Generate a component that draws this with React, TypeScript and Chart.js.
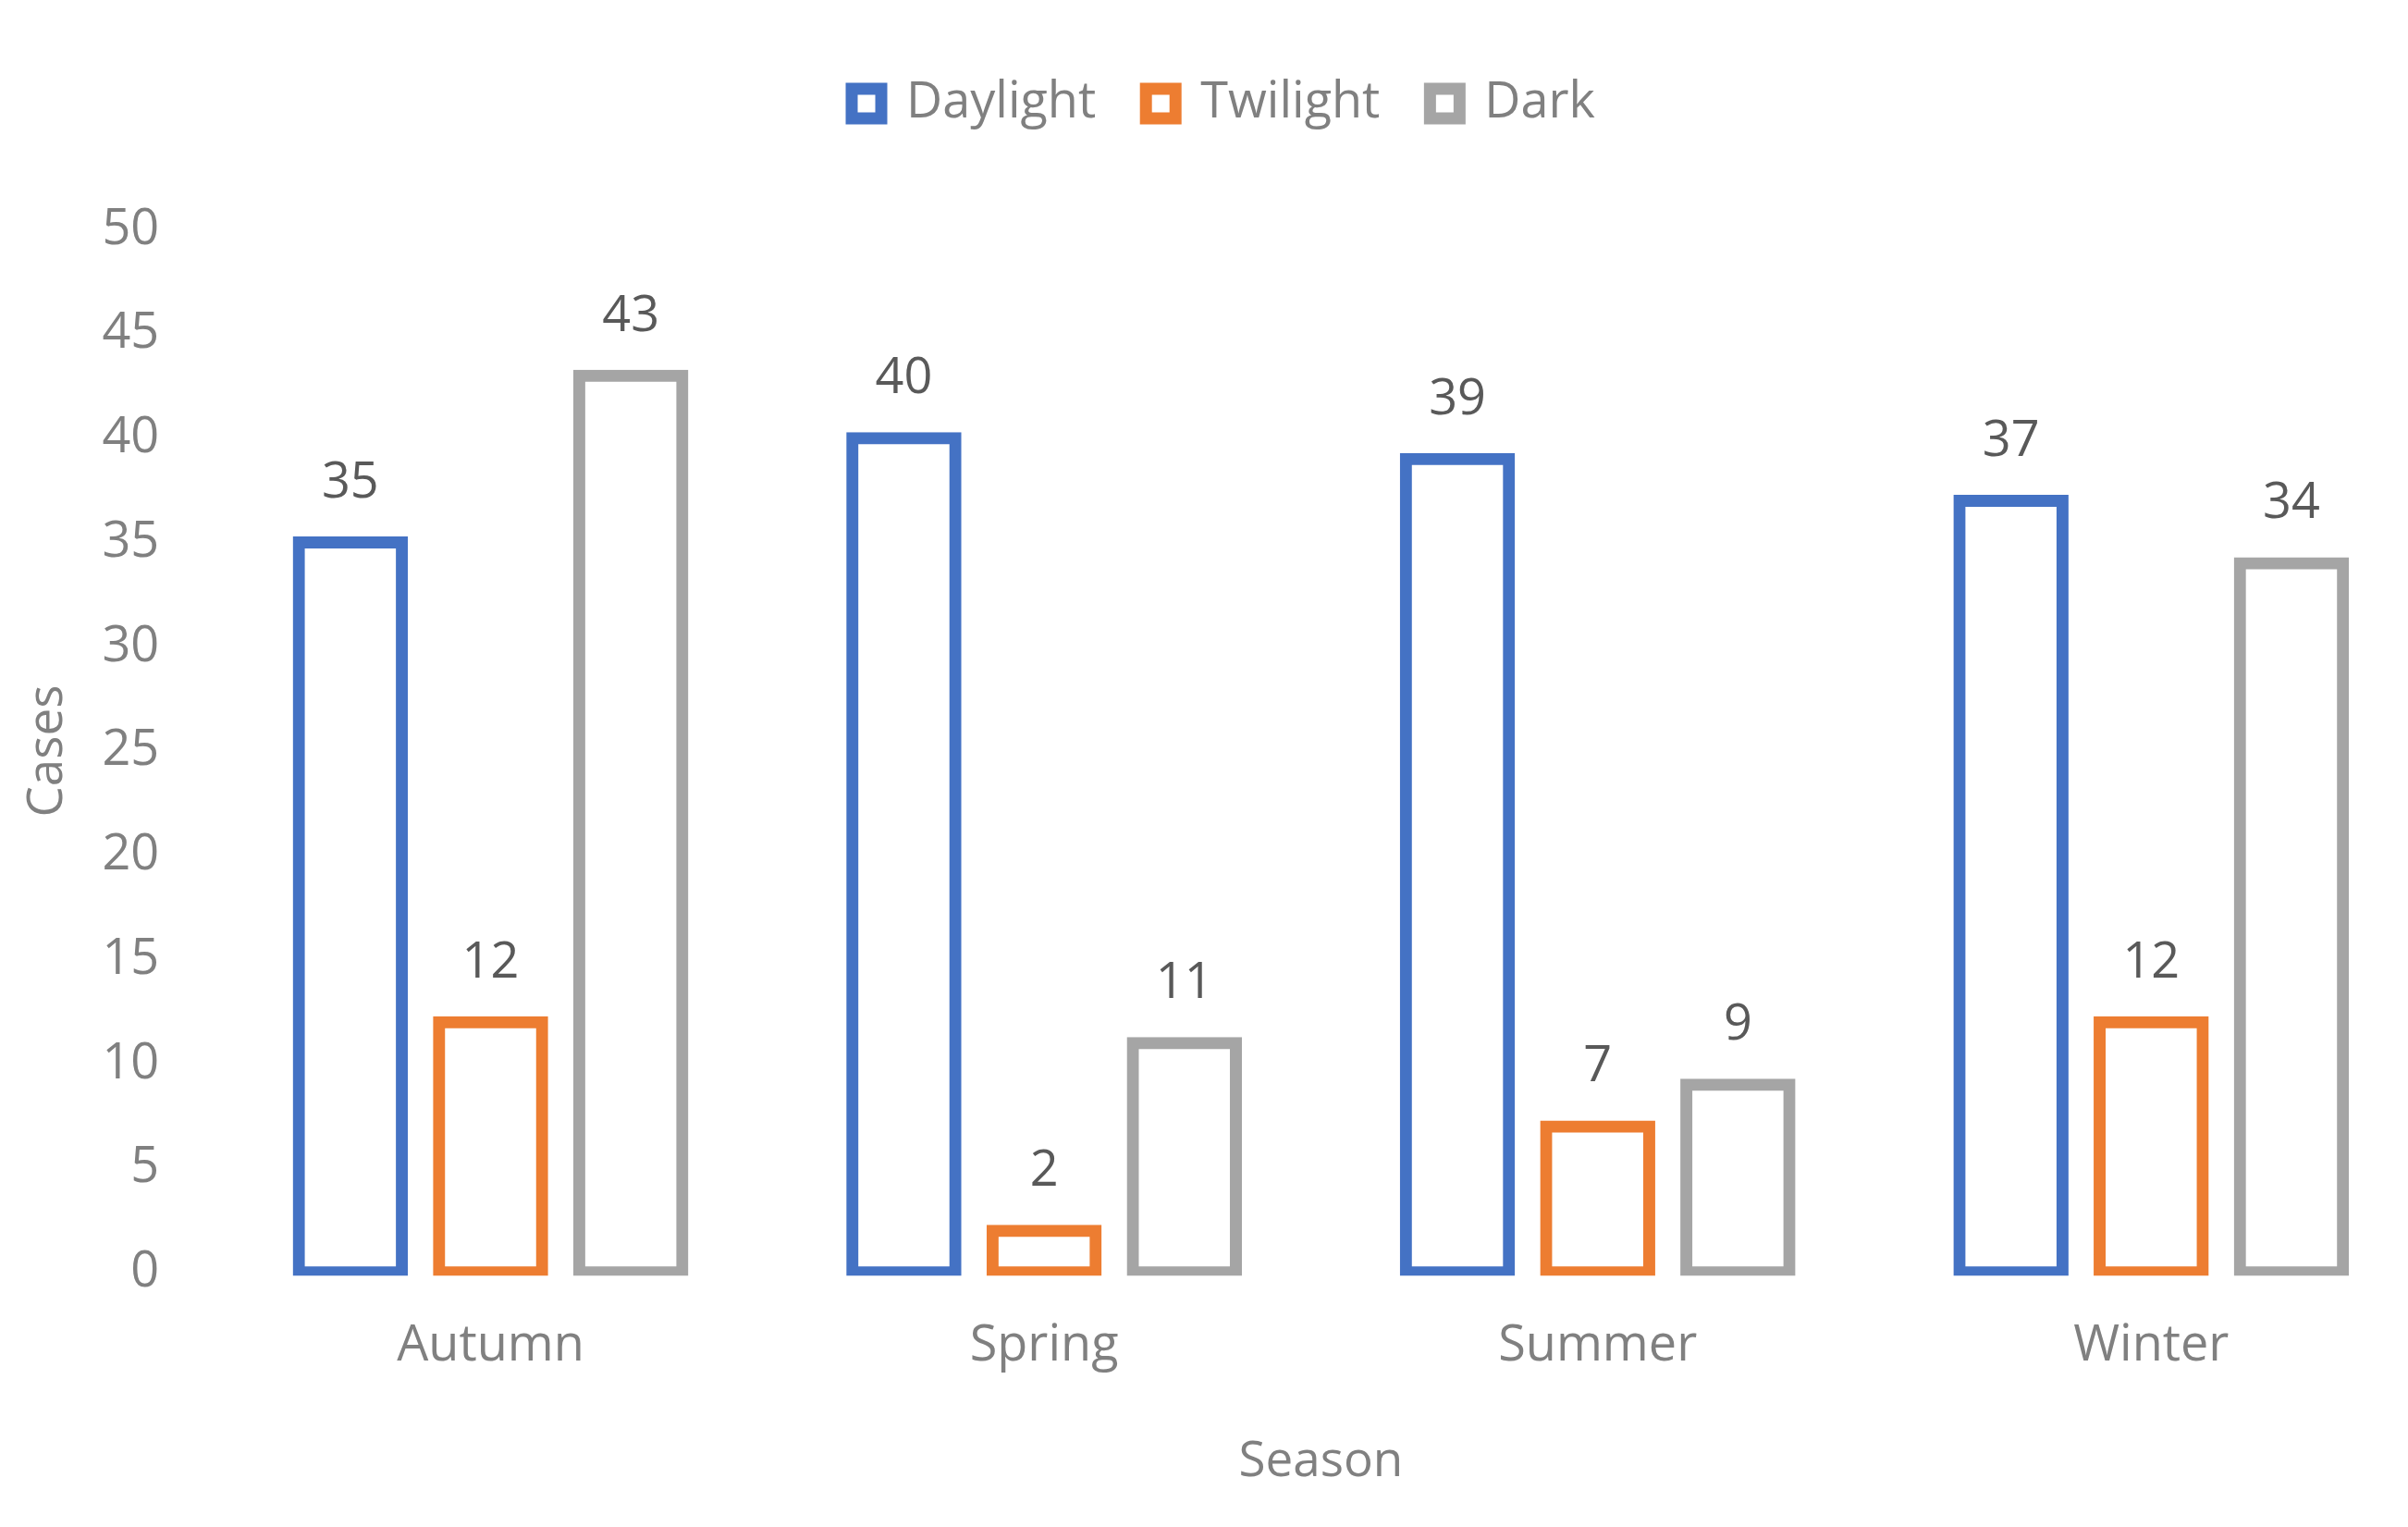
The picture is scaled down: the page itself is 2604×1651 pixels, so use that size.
import React, { useEffect, useRef } from "react";
import Chart from "chart.js/auto";

// values
const seasons = ["Autumn", "Spring", "Summer", "Winter"];
const daylight = [35, 40, 39, 37];
const twilight = [12, 2, 7, 12];
const dark = [43, 11, 9, 34];

const yMin = 0;
const yMax = 50;
const yStep = 5;

const FONT = "'Open Sans', 'Noto Sans', sans-serif";
const AXIS_GREY = "#808080";
const LABEL_GREY = "#595959";

// draws the value above each bar, like Excel's data labels
const barLabels = {
  id: "barLabels",
  afterDatasetsDraw(chart: Chart) {
    const { ctx } = chart;
    ctx.save();
    ctx.font = `54px ${FONT}`;
    ctx.fillStyle = LABEL_GREY;
    ctx.textAlign = "center";
    ctx.textBaseline = "middle";
    chart.data.datasets.forEach((ds, i) => {
      const meta = chart.getDatasetMeta(i);
      meta.data.forEach((bar: any, j: number) => {
        ctx.fillText(String(ds.data[j]), bar.x, bar.y - 64);
      });
    });
    ctx.restore();
  },
};

function SeasonChart() {
  const canvasRef = useRef<HTMLCanvasElement>(null);
  const chartRef = useRef<Chart | null>(null);

  useEffect(() => {
    document.body.style.margin = "0";
    const ctx = canvasRef.current?.getContext("2d");
    if (!ctx) return;

    Chart.defaults.font.family = FONT;

    // outline centred on the bar edge (Excel style): inflate by half the border
    const bar = (label: string, data: number[], color: string) => ({
      label,
      data,
      backgroundColor: "#ffffff",
      borderColor: color,
      borderWidth: 13,
      inflateAmount: 6.5,
      borderSkipped: false as const,
      categoryPercentage: 0.76,
      barPercentage: 0.7355,
      clip: { left: false, right: false, top: false, bottom: 3.5 },
    });

    chartRef.current = new Chart(ctx, {
      type: "bar",
      data: {
        labels: seasons,
        datasets: [
          bar("Daylight", daylight, "#4472C4"),
          bar("Twilight", twilight, "#ED7D31"),
          bar("Dark", dark, "#A5A5A5"),
        ],
      },
      options: {
        animation: false,
        responsive: false,
        devicePixelRatio: 1,
        layout: { padding: { left: 20.4, right: 34.4, top: 31, bottom: 0 } },
        plugins: {
          legend: {
            position: "top",
            labels: {
              boxWidth: 32,
              boxHeight: 32,
              padding: 54,
              color: AXIS_GREY,
              font: { size: 54 },
            },
          },
          // empty title used only as a spacer between legend and plot
          title: {
            display: true,
            text: "",
            padding: 0,
            weight: 500,
            font: { size: 10, lineHeight: "99.3px" },
          },
          tooltip: { enabled: false },
        },
        scales: {
          x: {
            grid: { display: false, drawTicks: false },
            border: { display: false },
            ticks: { color: AXIS_GREY, font: { size: 54 }, padding: 47.8 },
            title: {
              display: true,
              text: "Season",
              color: AXIS_GREY,
              font: { size: 53 },
              padding: { top: 0, bottom: 38 },
            },
            afterFit: (scale: any) => {
              scale.height = 275.2;
            },
          },
          y: {
            min: yMin,
            max: yMax,
            ticks: {
              stepSize: yStep,
              color: AXIS_GREY,
              font: { size: 54 },
              padding: 59,
            },
            grid: { display: false, drawTicks: false },
            border: { display: false },
            title: {
              display: true,
              text: "Cases",
              color: AXIS_GREY,
              font: { size: 53 },
              padding: { top: 0, bottom: 0 },
            },
            afterFit: (scale: any) => {
              scale.width = 210.8;
            },
          },
        },
      },
      plugins: [barLabels],
    });

    return () => {
      if (chartRef.current) {
        chartRef.current.destroy();
      }
    };
  }, []);

  return (
    <div style={{ width: 2604, height: 1651, overflow: "hidden" }}>
      <canvas
        ref={canvasRef}
        width={2660}
        height={1651}
        style={{ display: "block" }}
      ></canvas>
    </div>
  );
}

export default function App() {
  return <SeasonChart />;
}
